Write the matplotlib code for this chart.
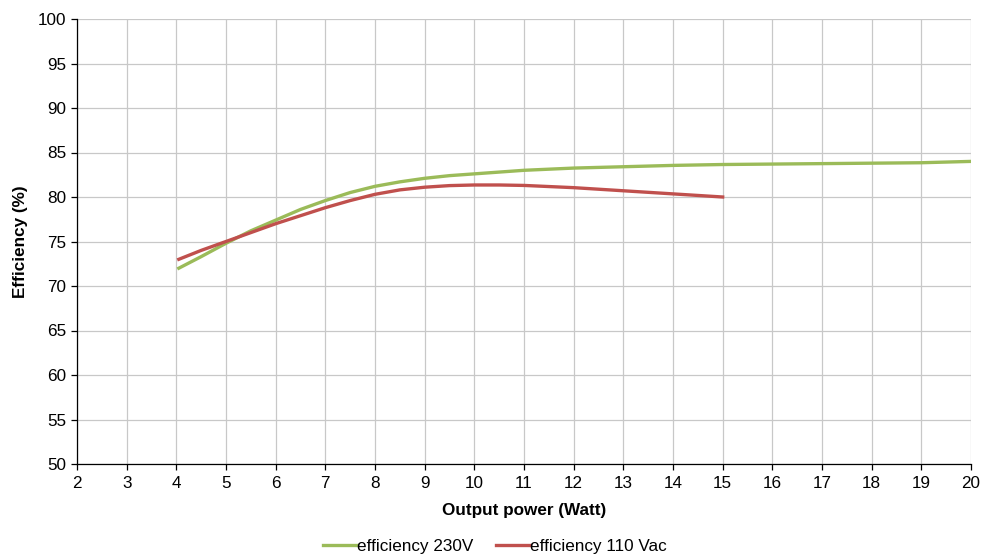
import matplotlib
matplotlib.use("Agg")
import matplotlib.pyplot as plt

plt.rcParams['font.family'] = ['Liberation Sans', 'DejaVu Sans']

power_230 = [4.05, 4.5, 5, 5.5, 6, 6.5, 7, 7.5, 8, 8.5, 9, 9.5, 10, 11, 12, 13, 14, 15, 16, 17, 18, 19, 20]
eff_230 = [72.0, 73.3, 74.8, 76.2, 77.4, 78.6, 79.6, 80.5, 81.2, 81.7, 82.1, 82.4, 82.6, 83.0, 83.25, 83.4, 83.55, 83.65, 83.7, 83.75, 83.8, 83.85, 84.0]

power_110 = [4.05, 4.5, 5, 5.5, 6, 6.5, 7, 7.5, 8, 8.5, 9, 9.5, 10, 10.5, 11, 12, 13, 14, 15]
eff_110 = [73.0, 74.0, 75.0, 76.0, 77.0, 77.9, 78.8, 79.6, 80.3, 80.8, 81.1, 81.28, 81.35, 81.35, 81.3, 81.05, 80.7, 80.35, 80.0]

x_ticks = list(range(2, 21))
y_ticks = list(range(50, 101, 5))

FS = 12.3

fig = plt.figure(figsize=(9.84, 5.56), dpi=100)
ax = fig.add_axes([77/984, 1-464/556, (971-77)/984, (464-19)/556])

ax.plot(power_230, eff_230, color='#9BBB59', lw=2.4, label='efficiency 230V', solid_joinstyle='round')
ax.plot(power_110, eff_110, color='#C0504D', lw=2.4, label='efficiency 110 Vac', solid_joinstyle='round')

ax.set_xlim(2, 20)
ax.set_ylim(50, 100)
ax.set_xticks(x_ticks)
ax.set_yticks(y_ticks)
ax.grid(True, color='#C8C8C8', lw=0.9)
ax.set_axisbelow(True)
for s in ['top', 'right']:
    ax.spines[s].set_visible(False)
for s in ['left', 'bottom']:
    ax.spines[s].set_color('black')
    ax.spines[s].set_linewidth(0.9)
ax.tick_params(axis='both', direction='out', length=4, width=0.9, labelsize=FS, colors='black')
ax.tick_params(axis='x', pad=5)
ax.tick_params(axis='y', pad=4)

ax.set_xlabel('Output power (Watt)', fontsize=FS, fontweight='bold', labelpad=8)
ax.set_ylabel('Efficiency (%)', fontsize=FS, fontweight='bold', labelpad=7)

fig.legend(loc='center', bbox_to_anchor=(0.503, 1-546/556), ncol=2, frameon=False,
           fontsize=FS, handlelength=2.0, handletextpad=0.0, columnspacing=1.3)

fig.savefig('out.png', dpi=100)
